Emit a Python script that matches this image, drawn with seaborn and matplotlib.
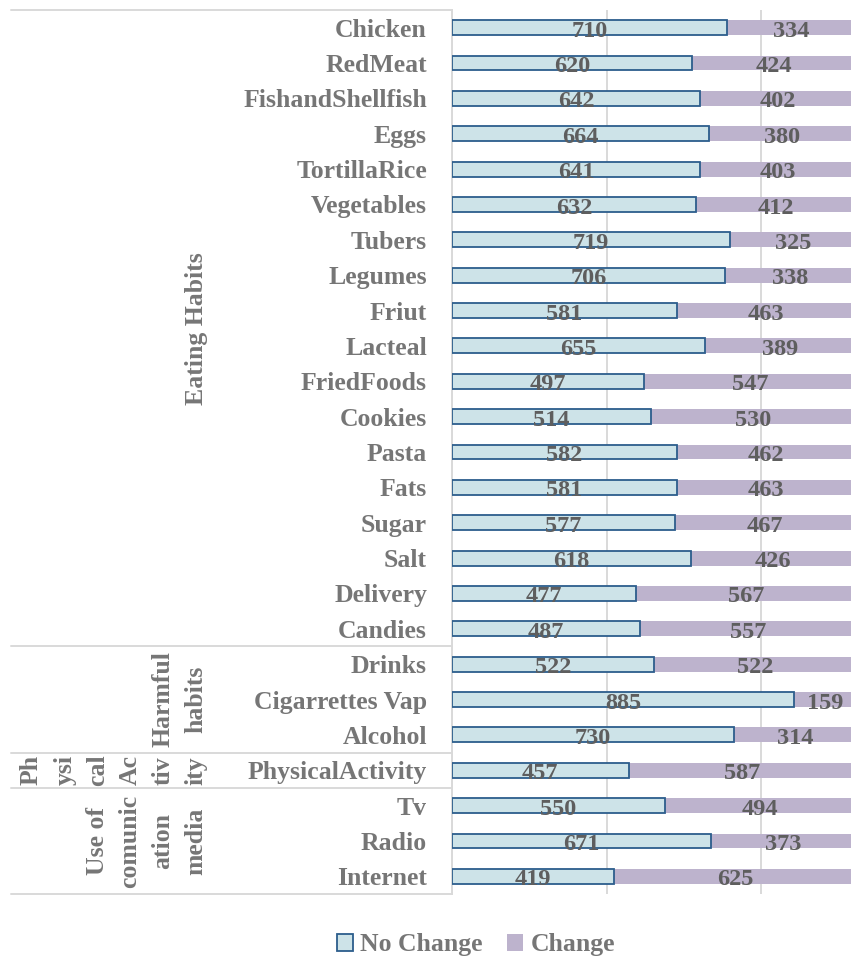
import numpy as np
import pandas as pd
import matplotlib
matplotlib.use("Agg")
import matplotlib.pyplot as plt
import matplotlib.transforms as mtransforms
from matplotlib.patches import Patch
import seaborn as sns

categories = ["Chicken", "RedMeat", "FishandShellfish", "Eggs", "TortillaRice", "Vegetables",
              "Tubers", "Legumes", "Friut", "Lacteal", "FriedFoods", "Cookies", "Pasta", "Fats",
              "Sugar", "Salt", "Delivery", "Candies", "Drinks", "Cigarrettes Vap", "Alcohol",
              "PhysicalActivity", "Tv", "Radio", "Internet"]
no_change = [710, 620, 642, 664, 641, 632, 719, 706, 581, 655, 497, 514, 582, 581, 577, 618,
             477, 487, 522, 885, 730, 457, 550, 671, 419]
change = [334, 424, 402, 380, 403, 412, 325, 338, 463, 389, 547, 530, 462, 463, 467, 426,
          567, 557, 522, 159, 314, 587, 494, 373, 625]
# group name pieces (as wrapped columns), first row index, last row index
groups = [
    (["Eating Habits"], 0, 17),
    (["Harmful", "habits"], 18, 20),
    (["Ph", "ysi", "cal", "Ac", "tiv", "ity"], 21, 21),
    (["Use of", "comunic", "ation", "media"], 22, 24),
]
series_names = ["No Change", "Change"]

sns.set_style("white")
plt.rcParams["font.family"] = ["Liberation Serif", "DejaVu Serif"]
plt.rcParams["font.weight"] = "bold"

W, H = 851, 956
fig = plt.figure(figsize=(W / 100, H / 100), dpi=100)
ax = fig.add_axes([452 / W, 1 - 894 / H, (851 - 452) / W, (894 - 10) / H])

df = pd.DataFrame({"cat": categories, "nc": no_change, "ch": change})
df["total"] = df["nc"] + df["ch"]

c_blue = "#CDE3E8"
c_edge = "#2C5D8C"
c_purple = "#BDB3CD"

sns.barplot(data=df, x="total", y="cat", orient="h", color=c_purple, width=0.42,
            saturation=1, ax=ax, linewidth=0, zorder=2)
sns.barplot(data=df, x="nc", y="cat", orient="h", color=c_blue, width=0.42,
            saturation=1, ax=ax, edgecolor=c_edge, linewidth=1.3, zorder=3)

ax.set_xlim(0, 1032)
ax.set_ylim(24.5, -0.5)
ax.set_xlabel("")
ax.set_ylabel("")
ax.set_xticks([0, 400, 800])
ax.set_xticklabels([])
ax.xaxis.grid(True, color="#D9D9D9", linewidth=1.4, zorder=0)
ax.set_axisbelow(True)
ax.tick_params(axis="x", length=0)
ax.tick_params(axis="y", length=0, pad=18)
for s in ["top", "right", "bottom"]:
    ax.spines[s].set_visible(False)
ax.spines["left"].set_color("#D9D9D9")
ax.spines["left"].set_linewidth(1.4)

lab_color = "#767676"
val_color = "#5E5E5E"
fs = 18.5
for t in ax.get_yticklabels():
    t.set_fontsize(fs)
    t.set_color(lab_color)
    t.set_fontweight("bold")

# data labels
for i, (a, b) in enumerate(zip(no_change, change)):
    ax.text(a / 2, i + 0.1, str(a), ha="center", va="center", fontsize=17.5,
            color=val_color, fontweight="bold", zorder=5)
    ax.text(a + b / 2, i + 0.1, str(b), ha="center", va="center", fontsize=17.5,
            color=val_color, fontweight="bold", zorder=5, clip_on=False)

# table lines for the multi-level category axis
tr = mtransforms.blended_transform_factory(fig.transFigure, ax.transData)
for yb in [-0.5, 17.5, 20.5, 21.5, 24.5]:
    ax.plot([11 / W, 452 / W], [yb, yb], transform=tr, color="#D9D9D9",
            linewidth=1.4, clip_on=False, zorder=1)

col_x = [31, 65, 98, 130, 163, 196]
for pieces, r0, r1 in groups:
    yc = (r0 + r1) / 2
    n = len(pieces)
    xs = col_x[len(col_x) - n:]
    for p, xp in zip(pieces, xs):
        ax.text(xp / W, yc, p, transform=tr, rotation=90, ha="center", va="center",
                fontsize=fs, color=lab_color, fontweight="bold", clip_on=False)

handles = [Patch(facecolor=c_blue, edgecolor=c_edge, linewidth=1.3),
           Patch(facecolor=c_purple, edgecolor="none")]
leg = fig.legend(handles, series_names, loc="center", bbox_to_anchor=(476 / W, 1 - 945 / H),
                 ncol=2, frameon=False, fontsize=fs, handlelength=0.62, handleheight=0.62,
                 handletextpad=0.3, columnspacing=0.95)
for t in leg.get_texts():
    t.set_color(lab_color)
    t.set_fontweight("bold")

fig.savefig("out.png", dpi=100)
